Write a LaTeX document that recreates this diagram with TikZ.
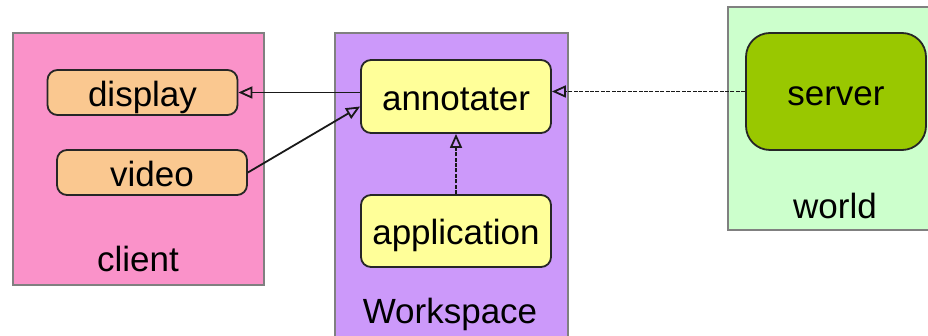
\documentclass[tikz,border=0pt]{standalone}
\usepackage{fontspec}
\setmainfont{Liberation Sans}
\usetikzlibrary{arrows.meta}
\definecolor{clientpink}{HTML}{FA92C9}
\definecolor{workviolet}{HTML}{CC99FA}
\definecolor{worldgreen}{HTML}{CCFFCC}
\definecolor{servergreen}{HTML}{99C800}
\definecolor{partorange}{HTML}{FAC890}
\definecolor{partyellow}{HTML}{FFFF99}
\tikzset{
  pane/.style={draw=black!50, line width=0.6pt},
  part/.style={draw=black!85, line width=0.9pt, rounded corners=5pt, inner sep=0pt,
    minimum width=95pt, text depth=0pt, text height=14pt, font=\fontsize{17.5}{20}\selectfont},
  label/.style={font=\fontsize{17.5}{20}\selectfont},
  link/.style={line width=0.9pt, draw=black!90, -{Triangle[open,length=7pt,width=6pt]}},
  weak/.style={link, dash pattern=on 2pt off 0.7pt}
}
\begin{document}
\begin{tikzpicture}[x=0.5pt,y=-0.5pt]
\useasboundingbox (0,0) rectangle (928,336);
% panes
\fill[clientpink] (13,33) rectangle (264,285);
\draw[pane] (13,33) rectangle (264,285);
\fill[workviolet] (335,33) rectangle (568,336);
\draw[pane] (335,336) -- (335,33) -- (568,33) -- (568,336);
\fill[worldgreen] (728,7) rectangle (928,230);
\draw[pane] (928,7) -- (728,7) -- (728,230) -- (928,230);
\node[label] (client) at (138,259) {client};
\node[label] (workspace) at (450,314) {Workspace};
\node[label] (world) at (835,206) {world};
% parts
\node[part, fill=partorange, minimum height=22.5pt] (display) at (142.5,92.5) {display};
\node[part, fill=partorange, minimum height=22.5pt] (video) at (152,172.5) {video};
\node[part, fill=partyellow, minimum height=36.5pt] (annotater) at (456,96.5) {annotater};
\node[part, fill=partyellow, minimum height=36pt] (application) at (456,231) {application};
\node[part, fill=servergreen, minimum width=90pt, minimum height=58.5pt, rounded corners=12pt] (server) at (836,91.5) {server};
% links
\draw[link] (annotater.west |- display.east) -- (display.east);
\draw[link] (video.east) -- ([yshift=-5pt]annotater.west);
\draw[weak] (application.north) -- (annotater.south);
\draw[weak] (server.west) -- (annotater.east |- server.west);
\end{tikzpicture}
\end{document}
